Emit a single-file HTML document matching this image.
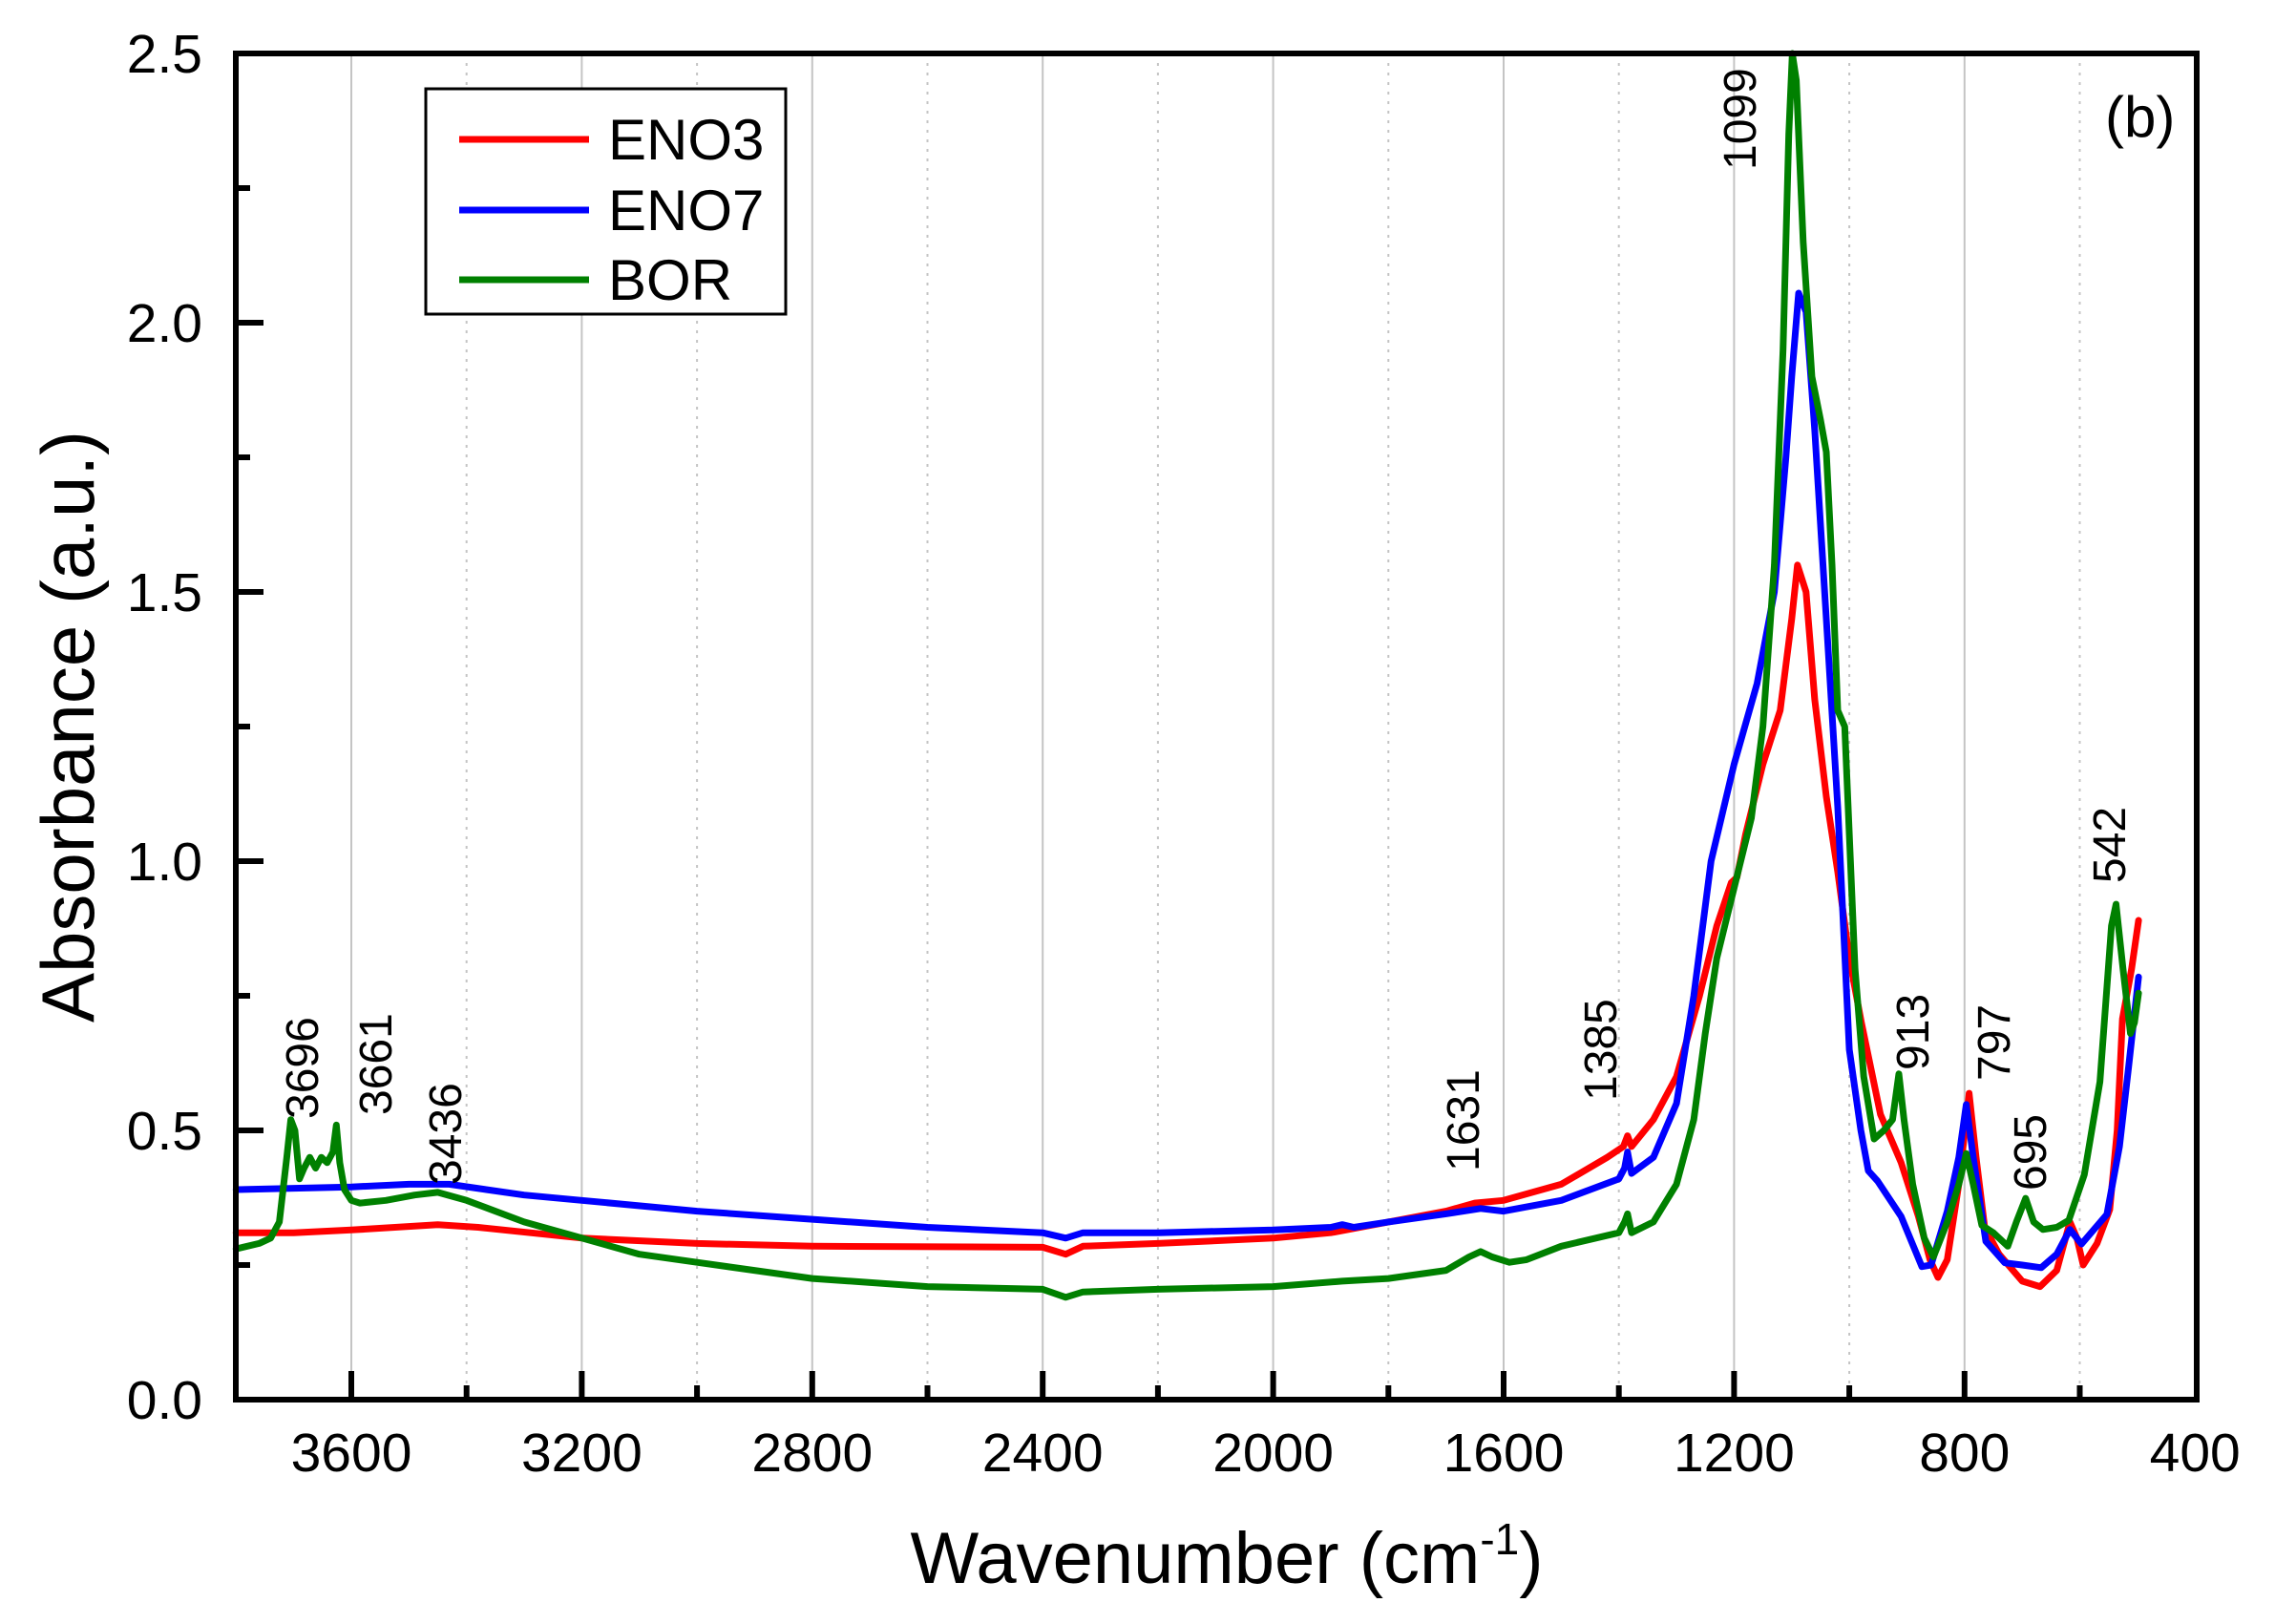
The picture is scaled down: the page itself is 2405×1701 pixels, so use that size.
<!DOCTYPE html>
<html><head><meta charset="utf-8">
<style>
html,body{margin:0;padding:0;background:#fff;}
svg{display:block;font-family:"Liberation Sans",Arial,sans-serif;}
</style></head>
<body>
<svg id="s" width="2405" height="1701" viewBox="0 0 2405 1701" xmlns="http://www.w3.org/2000/svg">
<rect width="2405" height="1701" fill="#fff"/>
<g id="grid"></g>
<g id="curves" fill="none" stroke-width="7" stroke-linejoin="round" stroke-linecap="round"></g>
<rect x="247" y="56" width="2054" height="1410" fill="none" stroke="#000" stroke-width="6"/>
<g id="ticks" stroke="#000" stroke-width="6"></g>
<g id="labels" font-size="57" fill="#000"></g>
<text x="1285" y="1658" font-size="76" text-anchor="middle">Wavenumber (cm<tspan font-size="46" dy="-30">-1</tspan><tspan dy="30">)</tspan></text>
<text transform="translate(98,761) rotate(-90)" font-size="78" text-anchor="middle">Absorbance (a.u.)</text>
<text x="2205" y="143" font-size="60">(b)</text>
<rect x="446" y="93" width="377" height="236" fill="#fff" stroke="#000" stroke-width="3"/>
<line x1="481" y1="146" x2="617" y2="146" stroke="#f00" stroke-width="7"/>
<line x1="481" y1="220" x2="617" y2="220" stroke="#00f" stroke-width="7"/>
<line x1="481" y1="293" x2="617" y2="293" stroke="#008000" stroke-width="7"/>
<text x="637" y="167" font-size="60">ENO3</text>
<text x="637" y="241" font-size="60">ENO7</text>
<text x="637" y="314" font-size="60">BOR</text>
<g id="ann" font-size="48"></g>
</svg>
<script>
var NS="http://www.w3.org/2000/svg";
function X(w){return 368+(3600-w)*0.6035;}
function Y(a){return 1466-a*564;}
function el(p,t,at,txt){var e=document.createElementNS(NS,t);for(var k in at)e.setAttribute(k,at[k]);if(txt!==undefined)e.textContent=txt;document.getElementById(p).appendChild(e);return e;}
for(var w=3600;w>=800;w-=400){el("grid","line",{x1:X(w),x2:X(w),y1:56,y2:1466,stroke:"#c4c4c4","stroke-width":2});}
for(var w=3400;w>=600;w-=400){el("grid","line",{x1:X(w),x2:X(w),y1:56,y2:1466,stroke:"#c4c4c4","stroke-width":2,"stroke-dasharray":"3,7"});}
for(var w=3600;w>=400;w-=400){var x=X(w);if(w>400)el("ticks","line",{x1:x,x2:x,y1:1466,y2:1436});el("labels","text",{x:x,y:1541,"text-anchor":"middle"},String(w));}
for(var w=3400;w>=600;w-=400){var x=X(w);el("ticks","line",{x1:x,x2:x,y1:1466,y2:1451});}
for(var i=0;i<=5;i++){var a=i*0.5,y=Y(a);if(i>0&&i<5)el("ticks","line",{x1:247,x2:276,y1:y,y2:y});el("labels","text",{x:212,y:y+20,"text-anchor":"end"},a.toFixed(1));}
for(var i=0;i<5;i++){var y=Y(i*0.5+0.25);el("ticks","line",{x1:247,x2:262,y1:y,y2:y});}
function path(d,c){var s="";for(var i=0;i<d.length;i+=2){s+=(i?"L":"M")+X(d[i]).toFixed(1)+","+Y(d[i+1]).toFixed(1);}el("curves","path",{d:s,stroke:c});}
var red=[3800,0.31,3700,0.31,3600,0.315,3450,0.325,3380,0.32,3200,0.30,3000,0.29,2800,0.285,2400,0.283,2360,0.27,2330,0.285,2200,0.29,2000,0.30,1900,0.31,1800,0.33,1700,0.35,1650,0.365,1600,0.37,1500,0.40,1420,0.45,1392,0.47,1385,0.49,1378,0.47,1340,0.52,1300,0.60,1260,0.75,1230,0.88,1205,0.96,1195,0.97,1180,1.05,1150,1.18,1120,1.28,1100,1.45,1090,1.55,1075,1.50,1060,1.30,1040,1.12,1020,0.98,1000,0.82,979,0.70,946,0.53,910,0.44,880,0.34,860,0.26,846,0.227,830,0.26,810,0.40,792,0.569,780,0.45,765,0.32,740,0.27,700,0.22,669,0.21,640,0.24,617,0.33,605,0.30,594,0.25,570,0.29,548,0.353,535,0.5,526,0.707,510,0.80,498,0.89];
var blue=[3800,0.39,3600,0.395,3500,0.40,3430,0.40,3300,0.38,3200,0.37,3000,0.35,2800,0.335,2600,0.32,2400,0.31,2360,0.30,2330,0.31,2200,0.31,2000,0.315,1900,0.32,1880,0.325,1860,0.32,1800,0.33,1700,0.345,1640,0.355,1600,0.35,1500,0.37,1400,0.41,1390,0.43,1385,0.46,1378,0.42,1340,0.45,1300,0.55,1270,0.75,1240,1.00,1200,1.18,1160,1.33,1130,1.50,1110,1.75,1100,1.90,1088,2.055,1075,2.02,1060,1.80,1040,1.45,1020,1.10,1000,0.65,980,0.50,967,0.425,951,0.406,910,0.34,874,0.247,858,0.25,830,0.35,810,0.45,797,0.548,785,0.45,763,0.294,730,0.254,700,0.25,667,0.245,640,0.27,617,0.316,597,0.289,553,0.344,531,0.47,515,0.62,498,0.785];
var green=[3800,0.28,3760,0.29,3740,0.30,3725,0.33,3712,0.45,3705,0.52,3698,0.50,3690,0.41,3682,0.43,3672,0.45,3662,0.43,3652,0.45,3642,0.44,3632,0.46,3626,0.51,3620,0.44,3612,0.39,3600,0.37,3585,0.365,3540,0.37,3490,0.38,3450,0.385,3400,0.37,3300,0.33,3200,0.30,3100,0.27,3000,0.255,2800,0.225,2600,0.21,2400,0.205,2360,0.19,2330,0.20,2200,0.205,2000,0.21,1880,0.22,1800,0.225,1700,0.24,1660,0.265,1640,0.275,1620,0.265,1590,0.255,1560,0.26,1500,0.285,1400,0.31,1390,0.33,1385,0.345,1378,0.31,1340,0.33,1300,0.40,1270,0.52,1250,0.68,1230,0.82,1200,0.95,1170,1.08,1150,1.25,1130,1.55,1115,1.95,1105,2.35,1099,2.5,1092,2.45,1080,2.15,1065,1.90,1050,1.82,1040,1.76,1030,1.55,1020,1.28,1008,1.25,1000,1.05,990,0.80,975,0.60,957,0.484,940,0.50,925,0.52,914,0.605,905,0.52,890,0.40,870,0.30,854,0.265,830,0.33,810,0.40,797,0.457,785,0.40,770,0.324,750,0.31,725,0.285,710,0.33,694,0.374,680,0.33,664,0.316,640,0.32,619,0.333,592,0.418,565,0.59,545,0.88,537,0.92,525,0.80,512,0.68,505,0.70,498,0.755];
path(red,"#f00");path(blue,"#00f");path(green,"#008000");
var ann=[["3696",316,1172],["3661",393,1168],["3436",466,1241],["1631",1532,1227],["1385",1676,1153],["1099",1822,178],["913",2003,1121],["797",2088,1132],["695",2126,1247],["542",2209,925]];
ann.forEach(function(a){el("ann","text",{transform:"translate("+(a[1]+17)+","+a[2]+") rotate(-90)"},a[0]);});
</script>
</body></html>
